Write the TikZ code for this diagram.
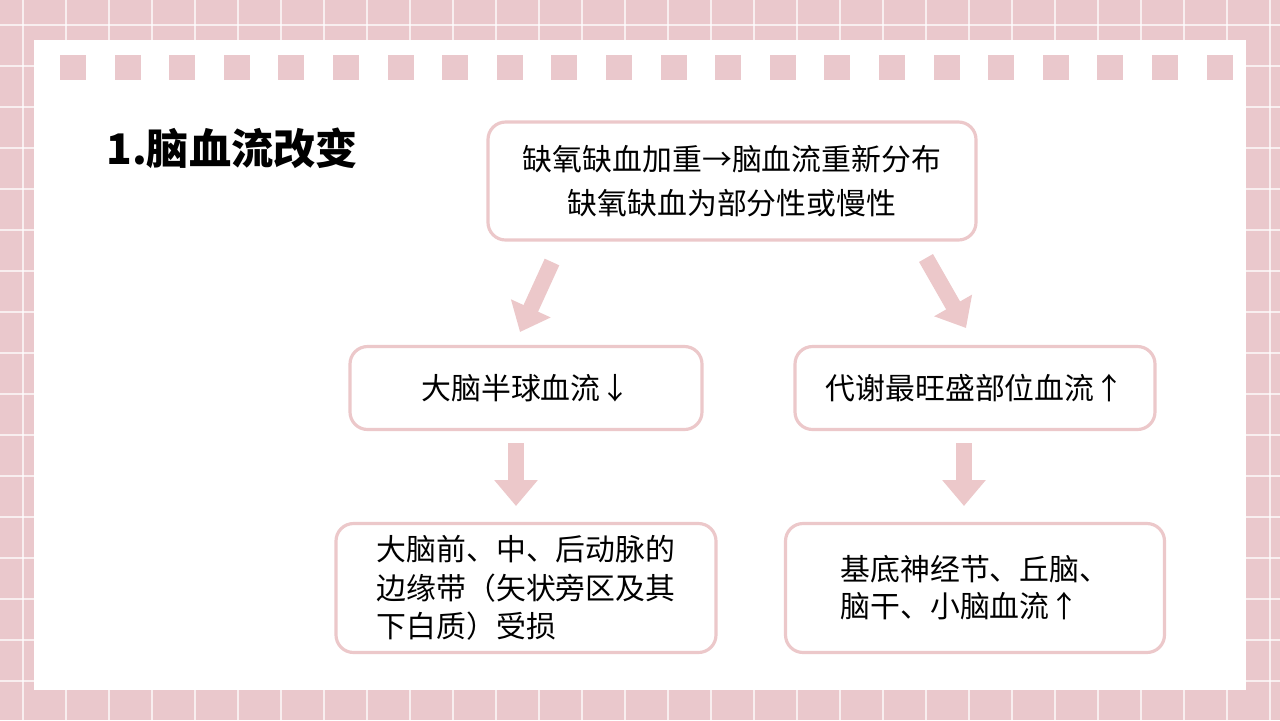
\documentclass[tikz,border=0pt]{standalone}
\usepackage{fontspec}
\setmainfont{Noto Sans CJK SC}
\usetikzlibrary{arrows.meta}
\definecolor{bgpink}{RGB}{234,200,204}
\definecolor{boxpink}{RGB}{236,200,202}
\tikzset{
  card/.style={draw=boxpink, line width=0.9pt, rounded corners=5pt, fill=white, align=center, font=\fontsize{8.5pt}{12.5pt}\selectfont},
  flow/.style={draw=boxpink, line width=1.6mm, -{Triangle[length=2.6mm,width=4.2mm]}}
}
\begin{document}
\begin{tikzpicture}[x=0.1mm,y=-0.1mm]
\useasboundingbox (0,0) rectangle (1280,720);

% ======================================
% BACKGROUND: GRID PAPER AND WHITE SHEET
% ======================================
\fill[bgpink] (0,0) rectangle (1280,720);
\foreach \k in {0,...,30} {
  \draw[white, opacity=0.7, line width=0.3pt] (23+43*\k,0) -- (23+43*\k,720);
}
\foreach \k in {0,...,17} {
  \draw[white, opacity=0.7, line width=0.3pt] (0,25+41*\k) -- (1280,25+41*\k);
}
\fill[white] (34,40) rectangle (1246,690);
\foreach \k in {0,...,21} {
  \fill[bgpink] (60+54.6*\k,55) rectangle (86+54.6*\k,80);
}

% ======================================
% TITLE
% ======================================
\node[anchor=west, font=\fontsize{12pt}{14pt}\selectfont\bfseries] (title) at (94,148) {1.脑血流改变};

% ======================================
% BOXES
% ======================================
\node[card, minimum width=488*0.1mm, minimum height=118*0.1mm] (top) at (732,181)
  {缺氧缺血加重→脑血流重新分布\\缺氧缺血为部分性或慢性};
\node[card, minimum width=352*0.1mm, minimum height=83*0.1mm] (left) at (526,388)
  {大脑半球血流↓};
\node[card, minimum width=360*0.1mm, minimum height=83*0.1mm] (right) at (975,388)
  {代谢最旺盛部位血流↑};
\node[card, minimum width=380*0.1mm, minimum height=129*0.1mm, inner sep=1pt, align=left,
  font=\fontsize{8.5pt}{11pt}\selectfont] (leftlow) at (526,588)
  {大脑前、中、后动脉的\\边缘带（矢状旁区及其\\下白质）受损};
\node[card, minimum width=379*0.1mm, minimum height=129*0.1mm, align=left,
  font=\fontsize{8.5pt}{10.5pt}\selectfont] (rightlow) at (975,588)
  {基底神经节、丘脑、\\脑干、小脑血流↑};

% ======================================
% ARROWS
% ======================================
\coordinate (a1) at (552,262);
\coordinate (a2) at (520,332);
\coordinate (b1) at (926,258);
\coordinate (b2) at (966,328);
\coordinate (c1) at (516,443);
\coordinate (c2) at (516,506);
\coordinate (d1) at (964,443);
\coordinate (d2) at (964,506);
\draw[flow] (a1) -- (a2);
\draw[flow] (b1) -- (b2);
\draw[flow] (c1) -- (c2);
\draw[flow] (d1) -- (d2);

\end{tikzpicture}
\end{document}
